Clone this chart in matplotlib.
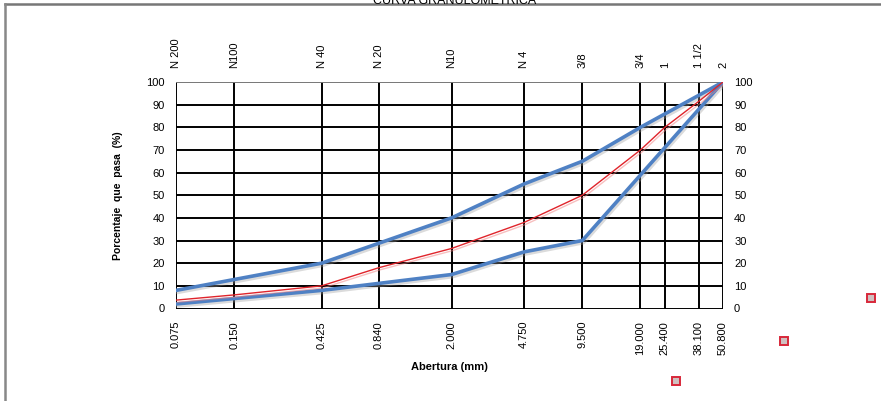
import matplotlib
matplotlib.use("Agg")
import matplotlib.pyplot as plt
from matplotlib.lines import Line2D
import matplotlib.patheffects as pe

plt.rcParams['font.family'] = ['Liberation Sans', 'DejaVu Sans']

# Sieve openings (mm) and their designations
sieve_mm = [0.075, 0.150, 0.425, 0.840, 2.000, 4.750, 9.500, 19.000, 25.400, 38.100, 50.800]
sieve_names = ["N 200", "N100", "N 40", "N 20", "N10", "N 4", "3/8", "3/4", "1", "1 1/2", "2"]

# Sample gradation (percent passing)
sample_mm = [0.075, 0.150, 0.425, 0.840, 2.000, 4.750, 9.500, 19.000, 25.400, 38.100, 50.800]
sample_pass = [3.7, 6.0, 10.0, 18.0, 26.5, 38.0, 50.0, 70.0, 80.0, 91.5, 100.0]

# Specification band limits
upper_mm = [0.075, 0.425, 2.000, 4.750, 9.500, 19.000, 50.800]
upper_pass = [8.0, 20.0, 40.0, 55.0, 65.0, 80.0, 100.0]
lower_mm = [0.075, 0.425, 2.000, 4.750, 9.500, 50.800]
lower_pass = [2.0, 8.0, 15.0, 25.0, 30.0, 100.0]

y_ticks = list(range(0, 101, 10))

W, H = 881, 401
fig = plt.figure(figsize=(W / 100, H / 100), dpi=100)

x0, x1 = 176, 723
ytop, ybot = 82, 308.5
ax = fig.add_axes([x0 / W, 1 - ybot / H, (x1 - x0) / W, (ybot - ytop) / H])
ax.set_xscale('log')
ax.set_xlim(sieve_mm[0], sieve_mm[-1])
ax.set_ylim(0, 100)

# Grid
for v in sieve_mm:
    ax.axvline(v, color='black', lw=1.4, zorder=1)
for v in y_ticks:
    ax.axhline(v, color='#777777' if v == 100 else 'black', lw=1.4, zorder=1)
for s in ax.spines.values():
    s.set_visible(False)

shadow = [pe.SimpleLineShadow(offset=(1, -1.5), shadow_color='#999999', alpha=0.35), pe.Normal()]
ax.plot(upper_mm, upper_pass, color='#4F81C4', lw=2.6, zorder=3, path_effects=shadow,
        solid_joinstyle='round', solid_capstyle='round')
ax.plot(lower_mm, lower_pass, color='#4F81C4', lw=2.6, zorder=3, path_effects=shadow,
        solid_joinstyle='round', solid_capstyle='round')
ax.plot(sample_mm, sample_pass, color='#E0242B', lw=1.0, zorder=4,
        path_effects=[pe.SimpleLineShadow(offset=(1, -1.5), shadow_color='#F08080', alpha=0.5), pe.Normal()])

fs = 8
ax.set_xticks(sieve_mm)
ax.set_xticklabels([f"{v:.3f}" for v in sieve_mm], rotation=90, fontsize=fs, va='top')
ax.xaxis.set_minor_locator(matplotlib.ticker.NullLocator())
ax.tick_params(axis='x', length=0, pad=9)
ax.set_yticks(y_ticks)
ax.tick_params(axis='y', length=0, pad=8, labelsize=fs, labelleft=True, labelright=True)

ax.set_xlabel("Abertura (mm)", fontsize=fs, fontweight='bold', labelpad=5)
ax.set_ylabel("Porcentaje  que  pasa  (%)", fontsize=7.5, fontweight='bold', labelpad=17)

# Sieve designations along the top
top = ax.twiny()
top.set_xscale('log')
top.set_xlim(ax.get_xlim())
top.set_xticks(sieve_mm)
top.set_xticklabels(sieve_names, rotation=90, fontsize=fs)
top.xaxis.set_minor_locator(matplotlib.ticker.NullLocator())
top.tick_params(axis='x', length=0, pad=10)
for s in top.spines.values():
    s.set_visible(False)

# Chart frame and title
fig.add_artist(Line2D([5 / W, 1], [1 - 4 / H, 1 - 4 / H], color='#777777', lw=1.8))
fig.add_artist(Line2D([5 / W, 5 / W], [0, 1 - 4 / H], color='#888888', lw=1.8))
fig.text(455 / W, 1 - 4.5 / H, "CURVA GRANULOMETRICA", ha='center', va='baseline', fontsize=9)

# Selection handles
for hx, hy in [(871, 298), (784, 341), (676, 381)]:
    fig.add_artist(Line2D([hx / W], [1 - hy / H], marker='s', markersize=6,
                          markerfacecolor='#D0C0C0', markeredgecolor='#D8283A', markeredgewidth=1.4))

fig.savefig("out.png", dpi=100)
